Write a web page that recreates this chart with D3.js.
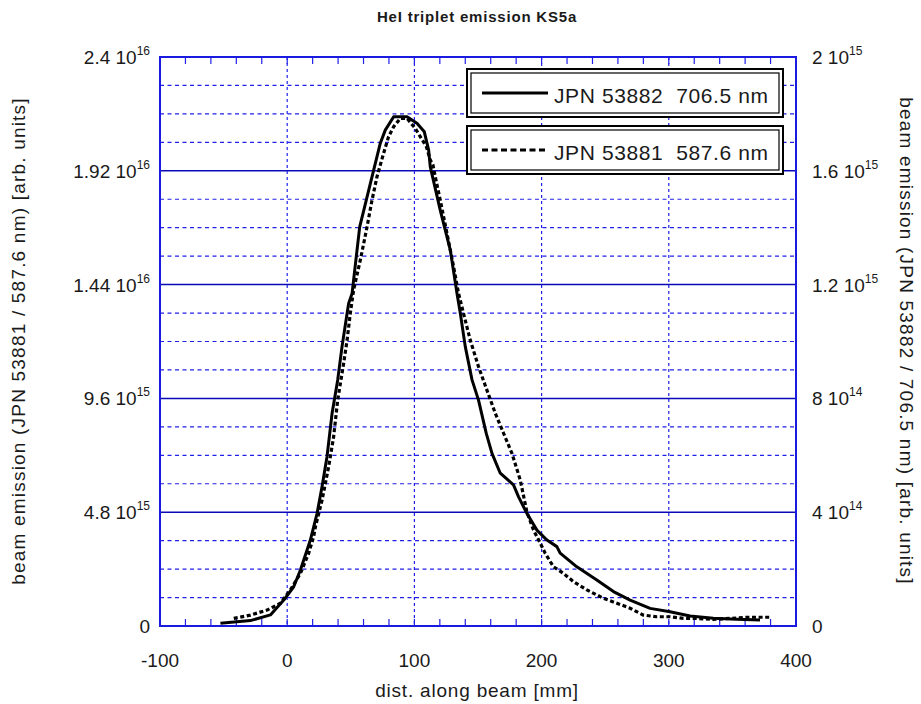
<!DOCTYPE html>
<html>
<head>
<meta charset="utf-8">
<script src="https://cdn.jsdelivr.net/npm/d3@7"></script>
<style>
	body { margin: 0; background: #fff; }
	text { font-family: "Liberation Sans", Arial, sans-serif; fill: #1a1a1a; }
</style>
</head>
<body>
<svg id="chart" width="921" height="704"></svg>
<script>
// JPN 53882 706.5 nm (solid, right axis, units of 1e14)
const solidX = [-52.5, -28.9, -13.2, -2.7, 5.1, 10.4, 18.2, 23.5, 27.4, 31.3, 35.3, 39.7, 43.1, 47.1, 48.3,
	51.0, 57.0, 65.4, 73.2, 77.1, 83.7, 94.2, 102.0, 107.8, 111.2, 112.5, 120.3, 128.2, 133.5, 136.1,
	140.0, 145.3, 150.4, 156.5, 161.0, 167.5, 177.9, 181.9, 188.4, 196.3, 204.2, 212.0, 214.6, 227.7,
	243.4, 256.5, 269.6, 285.3, 301.0, 316.7, 335.0, 353.4, 371.7];
const solidY = [0.10, 0.19, 0.39, 0.91, 1.38, 1.97, 3.02, 3.96, 4.90, 5.95, 7.48, 8.65, 9.82, 10.99, 11.34,
	11.69, 14.03, 15.56, 16.97, 17.43, 17.90, 17.90, 17.67, 17.37, 16.73, 16.14, 14.62, 13.22, 11.69, 10.99,
	9.82, 8.65, 7.94, 6.77, 6.07, 5.37, 4.96, 4.54, 3.96, 3.37, 3.02, 2.79, 2.56, 2.08,
	1.62, 1.21, 0.91, 0.62, 0.50, 0.35, 0.27, 0.24, 0.21];

// JPN 53881 587.6 nm (dashed, left axis, units of 1e15)
const dashX = [-42.0, -28.9, -15.8, -5.3, 2.5, 10.4, 16.9, 20.8, 22.2, 27.4, 32.6, 36.5, 39.7, 44.4, 47.1,
	49.6, 52.2, 57.5, 62.8, 66.7, 70.6, 75.8, 79.7, 83.7, 88.9, 94.2, 100.7, 104.6, 109.4, 112.5, 114.6,
	116.4, 120.3, 125.6, 130.8, 134.7, 138.6, 143.9, 150.4, 157.0, 163.6, 170.1, 176.7, 183.2, 188.4,
	193.6, 198.9, 202.8, 209.3, 217.2, 225.1, 235.6, 248.6, 259.2, 269.6, 280.0, 290.6, 301.0, 311.5,
	322.0, 335.0, 348.2, 361.3, 379.6];
const dashY = [0.32, 0.46, 0.67, 0.96, 1.52, 2.22, 3.07, 3.77, 4.19, 5.31, 6.72, 7.98, 9.53, 11.08, 12.06,
	13.19, 14.17, 15.44, 16.84, 17.97, 18.95, 19.94, 20.64, 21.06, 21.41, 21.41, 20.99, 20.64, 20.22, 19.66, 19.44,
	18.95, 17.97, 16.56, 15.16, 14.03, 13.19, 12.06, 10.94, 9.95, 8.97, 8.13, 7.28, 6.16, 4.82,
	4.05, 3.50, 3.07, 2.50, 2.22, 1.87, 1.52, 1.17, 0.96, 0.75, 0.46, 0.39, 0.39, 0.32,
	0.32, 0.28, 0.32, 0.37, 0.37];

const xTicks = [-100, 0, 100, 200, 300, 400];
const leftTicks = [0, 4.8, 9.6, 14.4, 19.2, 24];
const leftMant = ["0", "4.8", "9.6", "1.44", "1.92", "2.4"];
const leftExp = ["", "15", "15", "16", "16", "16"];
const rightTicks = [0, 4, 8, 12, 16, 20];
const rightMant = ["0", "4", "8", "1.2", "1.6", "2"];
const rightExp = ["", "14", "14", "15", "15", "15"];
const legendLabels = ["JPN 53882  706.5 nm", "JPN 53881  587.6 nm"];

const svg = d3.select("#chart");
const L = 160, R = 796, T = 57, B = 626;

let x = d3.scaleLinear().domain([-100, 400]).range([L, R]);
let yLeft = d3.scaleLinear().domain([0, 24]).range([B, T]);
let yRight = d3.scaleLinear().domain([0, 20]).range([B, T]);

const solidBlue = "#0a0ab8";
const dashBlue = "#2020e8";

// horizontal grid
let hgrid = d3.range(0, 24.01, 1.2);
svg.selectAll(".hgrid")
	.data(hgrid)
	.enter()
	.append("line")
	.attr("x1", L).attr("x2", R)
	.attr("y1", d => yLeft(d)).attr("y2", d => yLeft(d))
	.attr("stroke", (d, i) => i % 4 == 0 ? solidBlue : dashBlue)
	.attr("stroke-width", (d, i) => i % 4 == 0 ? 1.5 : 1.2)
	.attr("stroke-dasharray", (d, i) => i % 4 == 0 ? null : "4,3.5");

// vertical grid
svg.selectAll(".vgrid")
	.data([0, 100, 200, 300])
	.enter()
	.append("line")
	.attr("x1", d => x(d)).attr("x2", d => x(d))
	.attr("y1", T).attr("y2", B)
	.attr("stroke", dashBlue)
	.attr("stroke-width", 1.2)
	.attr("stroke-dasharray", "3,3");

// minor ticks top and bottom
let minor = d3.range(-80, 400, 20);
svg.selectAll(".tb")
	.data(minor)
	.enter()
	.append("line")
	.attr("x1", d => x(d)).attr("x2", d => x(d))
	.attr("y1", B).attr("y2", B - 7)
	.attr("stroke", dashBlue).attr("stroke-width", 1.2);
svg.selectAll(".tt")
	.data(minor)
	.enter()
	.append("line")
	.attr("x1", d => x(d)).attr("x2", d => x(d))
	.attr("y1", T).attr("y2", T + 7)
	.attr("stroke", dashBlue).attr("stroke-width", 1.2);

// frame
svg.append("rect")
	.attr("x", L).attr("y", T)
	.attr("width", R - L).attr("height", B - T)
	.attr("fill", "none")
	.attr("stroke", "#1a1ae0")
	.attr("stroke-width", 2);

// curves
let dashLine = d3.line()
	.x(d => x(d[0]))
	.y(d => yLeft(d[1]));
let solidLine = d3.line()
	.x(d => x(d[0]))
	.y(d => yRight(d[1]));

svg.append("path")
	.attr("d", dashLine(d3.zip(dashX, dashY)))
	.attr("fill", "none")
	.attr("stroke", "#000")
	.attr("stroke-width", 3.2)
	.attr("stroke-dasharray", "4,2.6");
svg.append("path")
	.attr("d", solidLine(d3.zip(solidX, solidY)))
	.attr("fill", "none")
	.attr("stroke", "#000")
	.attr("stroke-width", 3)
	.attr("stroke-linejoin", "round");

// x tick labels
svg.selectAll(".xl")
	.data(xTicks)
	.enter()
	.append("text")
	.attr("x", d => x(d))
	.attr("y", 667)
	.attr("text-anchor", "middle")
	.style("font-size", "19px")
	.text(d => d);

// left tick labels
leftTicks.forEach(function(v, i) {
	let t = svg.append("text")
		.attr("x", 150)
		.attr("y", yLeft(v) + 7)
		.attr("text-anchor", "end")
		.style("font-size", "19px");
	if (leftExp[i] == "") {
		t.text(leftMant[i]);
	} else {
		t.append("tspan").text(leftMant[i] + " 10");
		t.append("tspan").attr("dy", -9).style("font-size", "12px").text(leftExp[i]);
	}
});

// right tick labels
rightTicks.forEach(function(v, i) {
	let t = svg.append("text")
		.attr("x", 812)
		.attr("y", yRight(v) + 7)
		.style("font-size", "19px");
	if (rightExp[i] == "") {
		t.text(rightMant[i]);
	} else {
		t.append("tspan").text(rightMant[i] + " 10");
		t.append("tspan").attr("dy", -9).style("font-size", "12px").text(rightExp[i]);
	}
});

// title
svg.append("text")
	.attr("x", 477)
	.attr("y", 22)
	.attr("text-anchor", "middle")
	.style("font-size", "15px")
	.style("font-weight", "bold")
	.style("letter-spacing", "0.8px")
	.text("HeI triplet emission KS5a");

// x-axis label
svg.append("text")
	.attr("x", 477)
	.attr("y", 697)
	.attr("text-anchor", "middle")
	.style("font-size", "19px")
	.style("letter-spacing", "0.8px")
	.text("dist. along beam [mm]");

// y-axis labels
svg.append("text")
	.attr("transform", "translate(25, 341) rotate(-90)")
	.attr("text-anchor", "middle")
	.style("font-size", "19px")
	.style("letter-spacing", "1.2px")
	.text("beam emission (JPN 53881 / 587.6 nm) [arb. units]");
svg.append("text")
	.attr("transform", "translate(900, 341) rotate(90)")
	.attr("text-anchor", "middle")
	.style("font-size", "19px")
	.style("letter-spacing", "1.2px")
	.text("beam emission (JPN 53882 / 706.5 nm) [arb. units]");

// legend
legendLabels.forEach(function(lab, i) {
	let top = 68 + i * 57;
	let g = svg.append("g");
	g.append("rect")
		.attr("x", 467).attr("y", top + 1)
		.attr("width", 316).attr("height", 48)
		.attr("fill", "#fff").attr("stroke", "#000").attr("stroke-width", 2);
	g.append("rect")
		.attr("x", 471).attr("y", top + 5)
		.attr("width", 308).attr("height", 40)
		.attr("fill", "none").attr("stroke", "#000").attr("stroke-width", 1.2);
	g.append("line")
		.attr("x1", 482).attr("x2", 548)
		.attr("y1", top + 25).attr("y2", top + 25)
		.attr("stroke", "#000").attr("stroke-width", 3)
		.attr("stroke-dasharray", i == 1 ? "6,3.5" : null);
	g.append("text")
		.attr("x", 554)
		.attr("y", top + 35)
		.attr("xml:space", "preserve")
		.style("white-space", "pre")
		.style("font-size", "21px")
		.style("letter-spacing", "0.6px")
		.text(lab);
});
</script>
</body>
</html>
